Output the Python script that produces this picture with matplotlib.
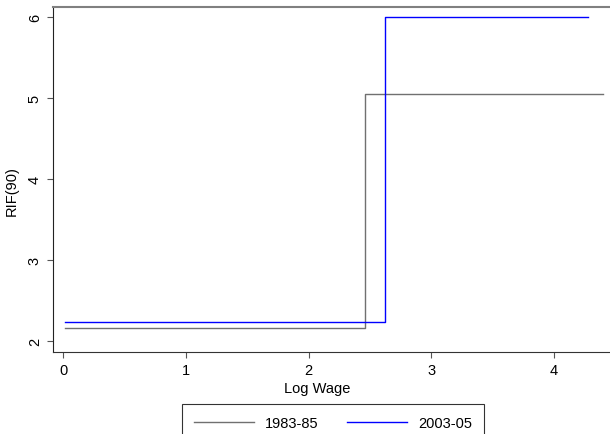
import matplotlib
matplotlib.use('Agg')
import matplotlib.pyplot as plt

plt.rcParams['font.family'] = ['Liberation Sans', 'DejaVu Sans']

# RIF(90) step lines
wage_8385 = [0.01, 2.458, 2.458, 4.398]
rif_8385 = [2.164, 2.164, 5.053, 5.053]
wage_0305 = [0.01, 2.621, 2.621, 4.275]
rif_0305 = [2.24, 2.24, 6.0, 6.0]

xticks = [0, 1, 2, 3, 4]
yticks = [2, 3, 4, 5, 6]

fig = plt.figure(figsize=(6.1, 4.35), dpi=100)
ax = fig.add_axes([53/610, 1 - 353/435, 1 - 53/610, (353 - 7.5)/435])

ax.plot(wage_8385, rif_8385, color='#707070', lw=1.0, label='1983-85')
ax.plot(wage_0305, rif_0305, color='#0000ff', lw=1.0, label='2003-05')

ax.set_xlim(-0.085, 4.455)
ax.set_ylim(1.868, 6.133)
ax.set_xticks(xticks)
ax.set_yticks(yticks)
ax.tick_params(labelsize=10.5, length=4.5, width=0.8, color='#555555')
for lab in ax.get_yticklabels():
    lab.set_rotation(90)
    lab.set_va('center')

ax.spines['right'].set_visible(False)
ax.spines['top'].set_color('#808080')
ax.spines['top'].set_linewidth(1.5)
ax.spines['left'].set_color('#222222')
ax.spines['bottom'].set_color('#333333')

ax.set_xlabel('Log Wage', fontsize=10.5)
ax.xaxis.set_label_coords((317 - 53)/557, -0.083)
ax.set_ylabel('RIF(90)', fontsize=10.5)
ax.yaxis.set_label_coords(-0.062, 0.47)

leg = fig.legend(loc='upper center', bbox_to_anchor=(333/610, 1 - 405/435), ncol=2,
                 fontsize=10.5, frameon=True, fancybox=False, edgecolor='black',
                 handlelength=4.1, handletextpad=0.75, columnspacing=2.0,
                 borderpad=0.8, borderaxespad=0)
leg.get_frame().set_linewidth(0.8)

fig.savefig('out.png', dpi=100)
